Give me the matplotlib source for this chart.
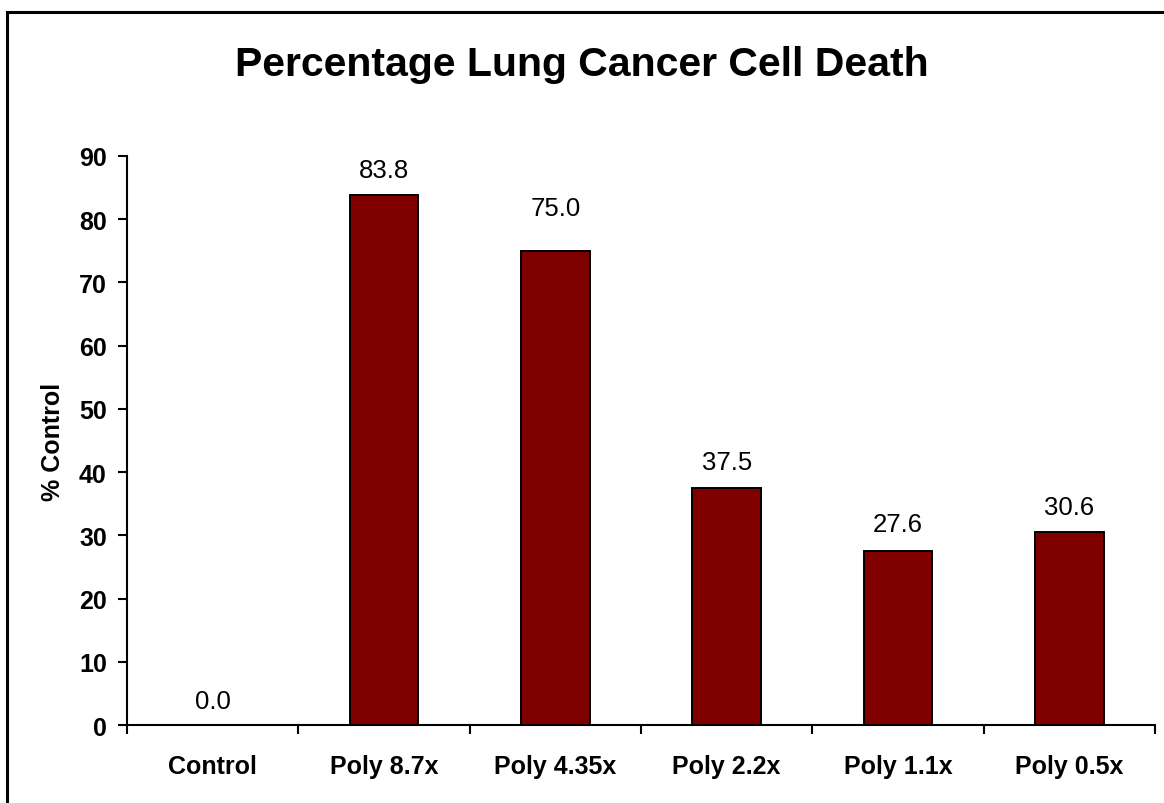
import matplotlib
matplotlib.use("Agg")
from matplotlib import pyplot as plt
from matplotlib import patches
import numpy as np

# chart data
categories = ["Control", "Poly 8.7x", "Poly 4.35x", "Poly 2.2x", "Poly 1.1x", "Poly 0.5x"]
values = [0.0, 83.8, 75.0, 37.5, 27.6, 30.6]

# label offsets above bar tops (points) - Excel put 75.0 a bit higher
label_offsets = [17, 18, 31, 19, 19, 18]

plt.rcParams['font.family'] = ['Liberation Sans', 'DejaVu Sans']

fig = plt.figure(figsize=(11.64, 8.04), dpi=100)
ax = fig.add_axes([127 / 1164, 1 - 726 / 804, (1155 - 127) / 1164, (726 - 157) / 804])

x = np.arange(len(categories))
ax.bar(x, values, width=0.4, color='#800000', edgecolor='black', linewidth=1.4, zorder=3)

for xi, v, off in zip(x, values, label_offsets):
    ax.annotate(f'{v:.1f}', (xi, v), xytext=(0, off), textcoords='offset points',
                ha='center', va='center', fontsize=18.5)

ax.set_xlim(-0.5, len(categories) - 0.5)
ax.set_ylim(0, 90)
ax.set_yticks(np.arange(0, 91, 10))

# category labels at centres, tick marks between categories
ax.set_xticks(x)
ax.set_xticklabels(categories, fontsize=18, fontweight='bold')
ax.tick_params(axis='x', which='major', length=0, pad=21)
ax.set_xticks(np.arange(-0.5, len(categories)), minor=True)
ax.tick_params(axis='x', which='minor', length=6.5, width=1.5, direction='out')

ax.tick_params(axis='y', length=6.5, width=1.5, direction='out', pad=8, labelsize=18)
for lab in ax.get_yticklabels():
    lab.set_fontweight('bold')

for side in ['top', 'right']:
    ax.spines[side].set_visible(False)
for side in ['left', 'bottom']:
    ax.spines[side].set_linewidth(1.5)

ax.set_ylabel('% Control', fontsize=18, fontweight='bold', labelpad=10)

fig.text(0.5, 1 - 65 / 804, 'Percentage Lung Cancer Cell Death', ha='center', va='center',
         fontsize=29.5, fontweight='bold')

# outer chart border (runs off right and bottom edges)
border = patches.Rectangle((6.5 / 1164, -0.01), 1.02, 1 - 12.5 / 804 + 0.01,
                           transform=fig.transFigure, fill=False, edgecolor='black',
                           linewidth=2.2, clip_on=False)
fig.patches.append(border)

plt.savefig('out.png', dpi=100, facecolor='white')
